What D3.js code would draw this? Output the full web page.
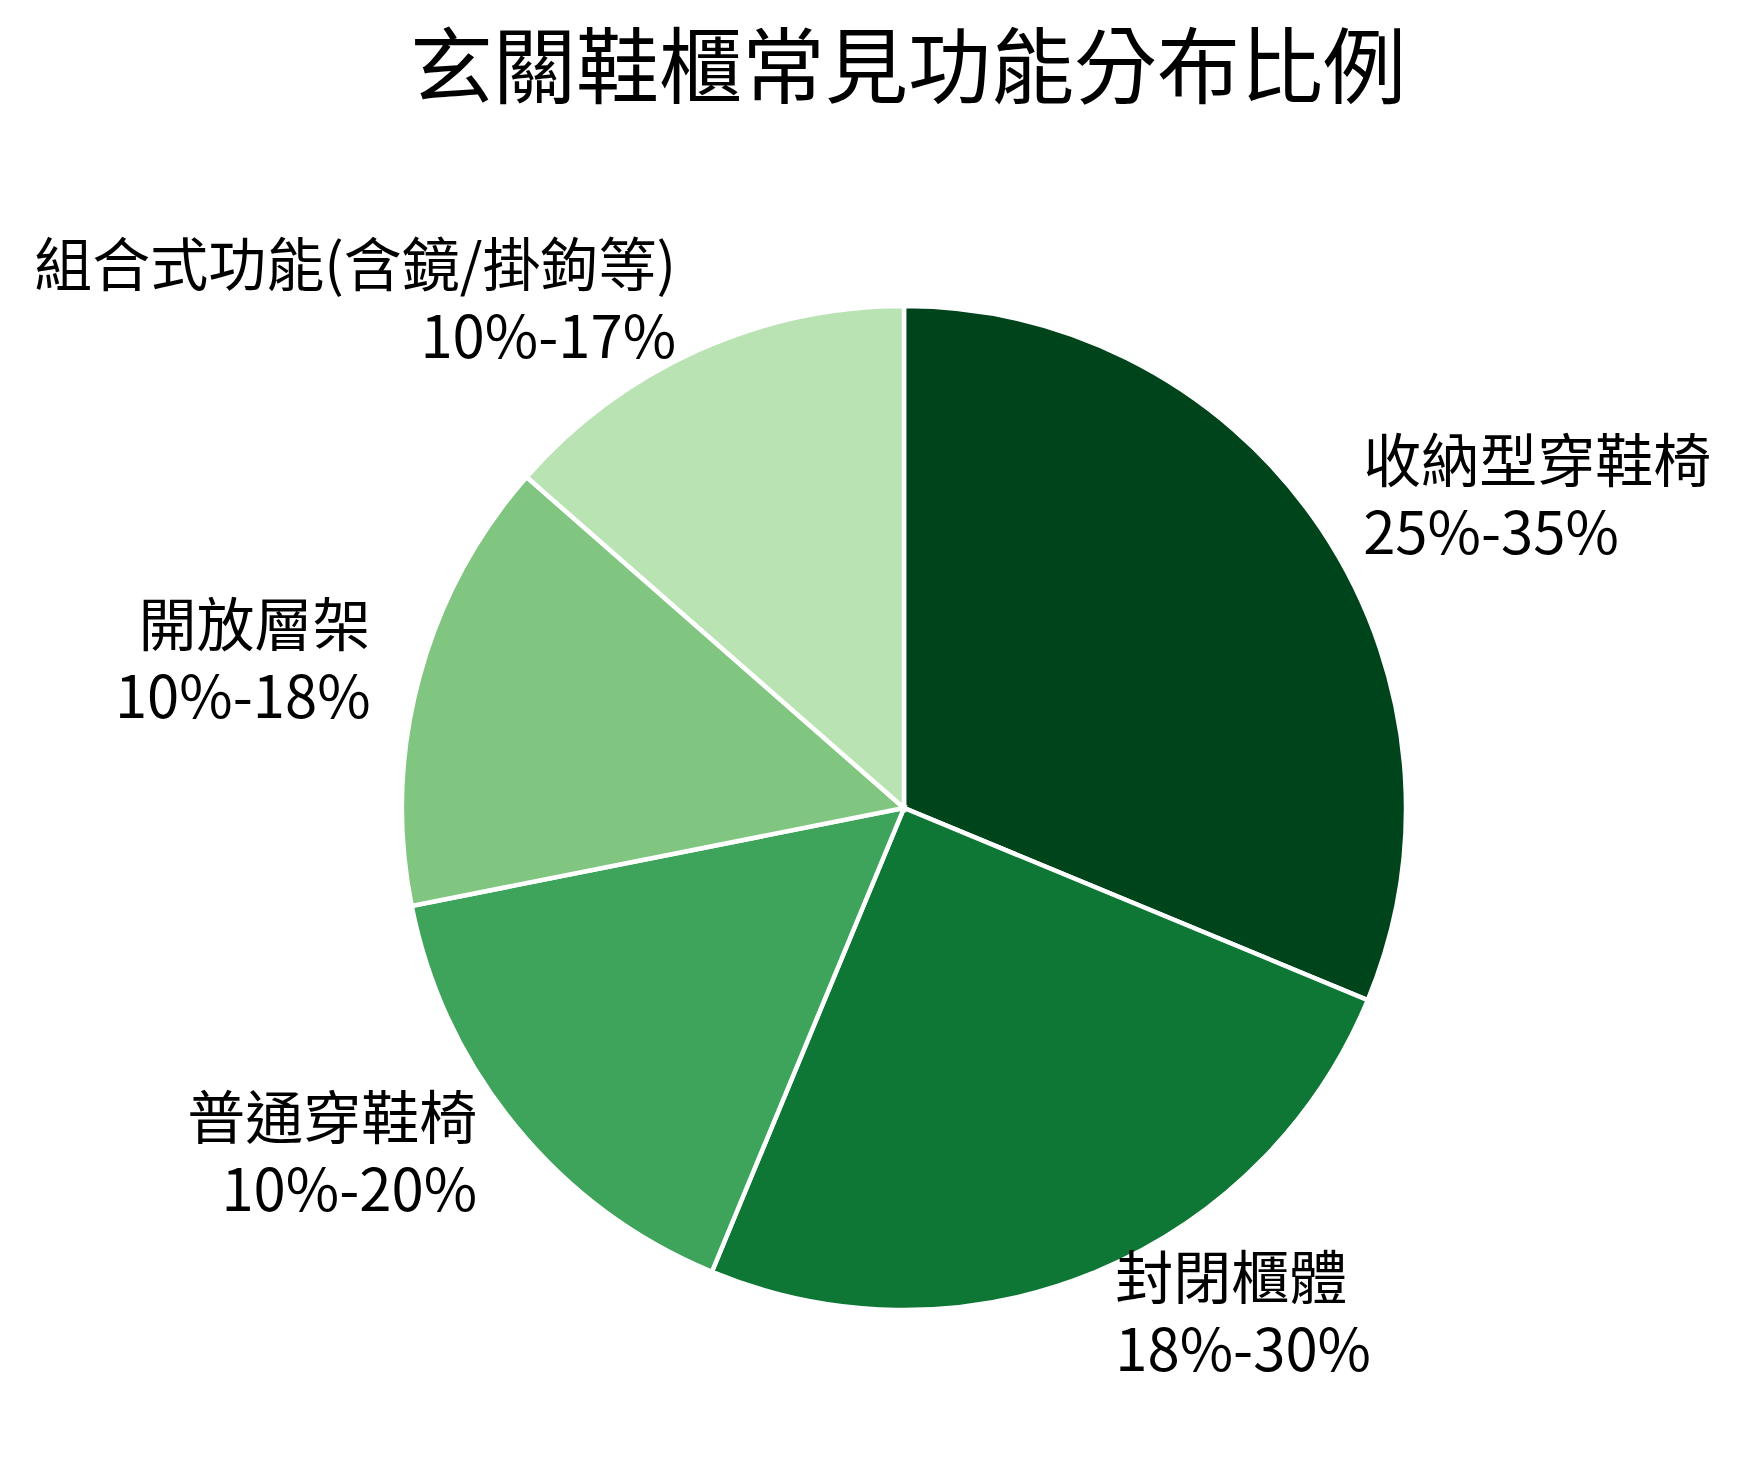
<!DOCTYPE html>
<html>
<head>
  <meta charset="utf-8">
  <script src="https://cdn.jsdelivr.net/npm/d3@7"></script>
  <style>
    body { margin: 0; background: #fff; }
    text { font-family: "Noto Sans CJK TC", "Noto Sans CJK SC", sans-serif; fill: #000; }
  </style>
</head>
<body>
<script>
  // slice names, their ranges and the values used for the angles
  var categories = ["收納型穿鞋椅", "封閉櫃體", "普通穿鞋椅", "開放層架", "組合式功能(含鏡/掛鉤等)"];
  var ranges = ["25%-35%", "18%-30%", "10%-20%", "10%-18%", "10%-17%"];
  var values = [30, 24, 15, 14, 13];
  var colors = ["#00441b", "#0f7735", "#3ea35b", "#80c680", "#b9e3b3"];

  var width = 1744, height = 1468;
  var cx = 904, cy = 808, r = 502;

  var svg = d3.select("body").append("svg")
      .attr("width", width)
      .attr("height", height);

  svg.append("text")
      .attr("x", 908)
      .attr("y", 61)
      .attr("text-anchor", "middle")
      .attr("dominant-baseline", "central")
      .style("font-size", "83px")
      .text("玄關鞋櫃常見功能分布比例");

  var data = categories.map(function (c, i) {
    return { name: c, range: ranges[i], value: values[i], color: colors[i] };
  });

  // clockwise from 12 o'clock, keep the given order
  var pie = d3.pie().sort(null).value(function (d) { return d.value; });
  var arc = d3.arc().innerRadius(0).outerRadius(r);

  var g = svg.append("g").attr("transform", "translate(" + cx + "," + cy + ")");

  var arcs = pie(data);

  g.selectAll("path")
    .data(arcs)
    .enter()
    .append("path")
      .attr("d", arc)
      .style("fill", function (d) { return d.data.color; })
      .style("stroke", "#fff")
      .style("stroke-width", 4.5);

  // labels sit just outside the rim, aligned away from the centre
  var labelR = r * 1.1, lineH = 72, nudge = -8;

  g.selectAll("text.label")
    .data(arcs)
    .enter()
    .append("text")
      .attr("class", "label")
      .attr("text-anchor", function (d) {
        var a = (d.startAngle + d.endAngle) / 2;
        return Math.sin(a) > 0 ? "start" : "end";
      })
      .attr("dominant-baseline", "central")
      .style("font-size", "58px")
      .each(function (d) {
        var a = (d.startAngle + d.endAngle) / 2;
        var x = labelR * Math.sin(a), y = -labelR * Math.cos(a) + nudge;
        var t = d3.select(this);
        [d.data.name, d.data.range].forEach(function (line, i) {
          t.append("tspan")
            .attr("x", x)
            .attr("y", y + (i - 0.5) * lineH)
            .text(line);
        });
      });
</script>
</body>
</html>
